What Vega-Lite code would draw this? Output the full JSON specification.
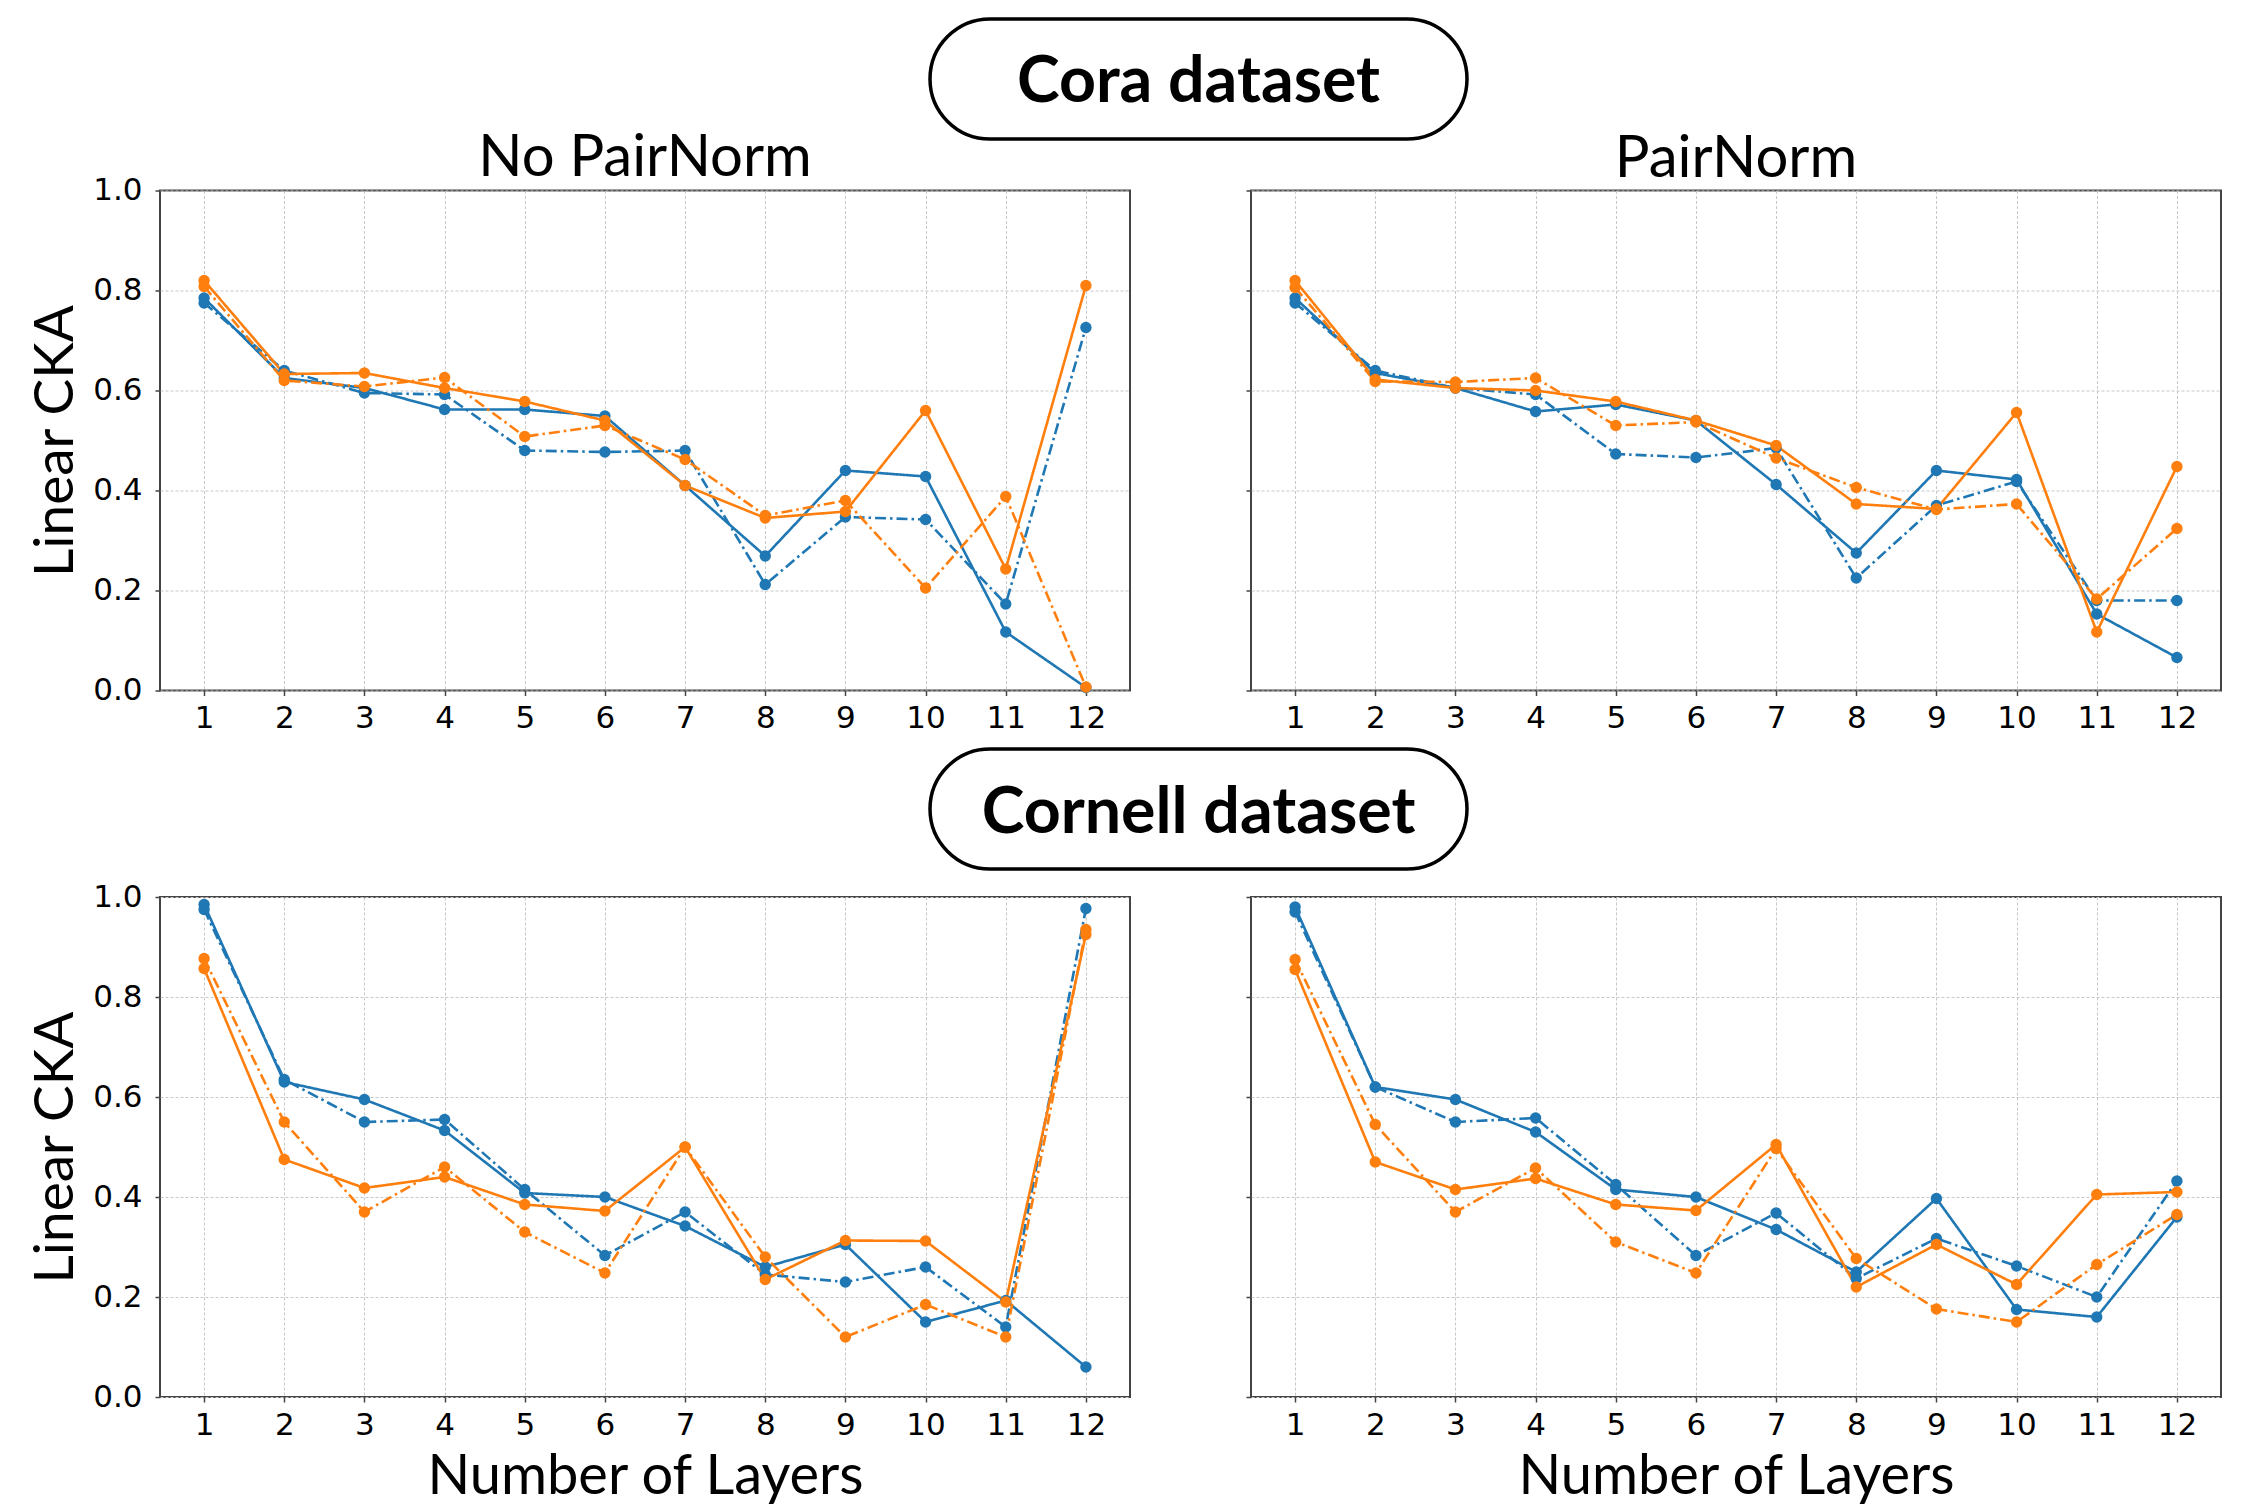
{
  "$schema": "https://vega.github.io/schema/vega-lite/v6.json",
  "background": "white",
  "padding": {"left": 27, "top": 17, "right": 5, "bottom": 0},
  "datasets": {
    "boxes": [{"label": "Cora dataset"}, {"label": "Cornell dataset"}],
    "cka": [
      {"panel":"cora_no","series":"A","variant":"v1","layer":1,"cka":0.785},
      {"panel":"cora_no","series":"A","variant":"v1","layer":2,"cka":0.625},
      {"panel":"cora_no","series":"A","variant":"v1","layer":3,"cka":0.605},
      {"panel":"cora_no","series":"A","variant":"v1","layer":4,"cka":0.562},
      {"panel":"cora_no","series":"A","variant":"v1","layer":5,"cka":0.562},
      {"panel":"cora_no","series":"A","variant":"v1","layer":6,"cka":0.549},
      {"panel":"cora_no","series":"A","variant":"v1","layer":7,"cka":0.41},
      {"panel":"cora_no","series":"A","variant":"v1","layer":8,"cka":0.269},
      {"panel":"cora_no","series":"A","variant":"v1","layer":9,"cka":0.44},
      {"panel":"cora_no","series":"A","variant":"v1","layer":10,"cka":0.428},
      {"panel":"cora_no","series":"A","variant":"v1","layer":11,"cka":0.117},
      {"panel":"cora_no","series":"A","variant":"v1","layer":12,"cka":0.006},
      {"panel":"cora_no","series":"A","variant":"v2","layer":1,"cka":0.775},
      {"panel":"cora_no","series":"A","variant":"v2","layer":2,"cka":0.64},
      {"panel":"cora_no","series":"A","variant":"v2","layer":3,"cka":0.595},
      {"panel":"cora_no","series":"A","variant":"v2","layer":4,"cka":0.592},
      {"panel":"cora_no","series":"A","variant":"v2","layer":5,"cka":0.48},
      {"panel":"cora_no","series":"A","variant":"v2","layer":6,"cka":0.477},
      {"panel":"cora_no","series":"A","variant":"v2","layer":7,"cka":0.48},
      {"panel":"cora_no","series":"A","variant":"v2","layer":8,"cka":0.212},
      {"panel":"cora_no","series":"A","variant":"v2","layer":9,"cka":0.347},
      {"panel":"cora_no","series":"A","variant":"v2","layer":10,"cka":0.342},
      {"panel":"cora_no","series":"A","variant":"v2","layer":11,"cka":0.173},
      {"panel":"cora_no","series":"A","variant":"v2","layer":12,"cka":0.726},
      {"panel":"cora_no","series":"B","variant":"v1","layer":1,"cka":0.82},
      {"panel":"cora_no","series":"B","variant":"v1","layer":2,"cka":0.633},
      {"panel":"cora_no","series":"B","variant":"v1","layer":3,"cka":0.635},
      {"panel":"cora_no","series":"B","variant":"v1","layer":4,"cka":0.605},
      {"panel":"cora_no","series":"B","variant":"v1","layer":5,"cka":0.578},
      {"panel":"cora_no","series":"B","variant":"v1","layer":6,"cka":0.54},
      {"panel":"cora_no","series":"B","variant":"v1","layer":7,"cka":0.41},
      {"panel":"cora_no","series":"B","variant":"v1","layer":8,"cka":0.345},
      {"panel":"cora_no","series":"B","variant":"v1","layer":9,"cka":0.358},
      {"panel":"cora_no","series":"B","variant":"v1","layer":10,"cka":0.56},
      {"panel":"cora_no","series":"B","variant":"v1","layer":11,"cka":0.243},
      {"panel":"cora_no","series":"B","variant":"v1","layer":12,"cka":0.81},
      {"panel":"cora_no","series":"B","variant":"v2","layer":1,"cka":0.808},
      {"panel":"cora_no","series":"B","variant":"v2","layer":2,"cka":0.62},
      {"panel":"cora_no","series":"B","variant":"v2","layer":3,"cka":0.608},
      {"panel":"cora_no","series":"B","variant":"v2","layer":4,"cka":0.626},
      {"panel":"cora_no","series":"B","variant":"v2","layer":5,"cka":0.508},
      {"panel":"cora_no","series":"B","variant":"v2","layer":6,"cka":0.53},
      {"panel":"cora_no","series":"B","variant":"v2","layer":7,"cka":0.462},
      {"panel":"cora_no","series":"B","variant":"v2","layer":8,"cka":0.35},
      {"panel":"cora_no","series":"B","variant":"v2","layer":9,"cka":0.38},
      {"panel":"cora_no","series":"B","variant":"v2","layer":10,"cka":0.205},
      {"panel":"cora_no","series":"B","variant":"v2","layer":11,"cka":0.388},
      {"panel":"cora_no","series":"B","variant":"v2","layer":12,"cka":0.007},

      {"panel":"cora_pn","series":"A","variant":"v1","layer":1,"cka":0.785},
      {"panel":"cora_pn","series":"A","variant":"v1","layer":2,"cka":0.635},
      {"panel":"cora_pn","series":"A","variant":"v1","layer":3,"cka":0.605},
      {"panel":"cora_pn","series":"A","variant":"v1","layer":4,"cka":0.558},
      {"panel":"cora_pn","series":"A","variant":"v1","layer":5,"cka":0.572},
      {"panel":"cora_pn","series":"A","variant":"v1","layer":6,"cka":0.54},
      {"panel":"cora_pn","series":"A","variant":"v1","layer":7,"cka":0.412},
      {"panel":"cora_pn","series":"A","variant":"v1","layer":8,"cka":0.275},
      {"panel":"cora_pn","series":"A","variant":"v1","layer":9,"cka":0.44},
      {"panel":"cora_pn","series":"A","variant":"v1","layer":10,"cka":0.422},
      {"panel":"cora_pn","series":"A","variant":"v1","layer":11,"cka":0.153},
      {"panel":"cora_pn","series":"A","variant":"v1","layer":12,"cka":0.066},
      {"panel":"cora_pn","series":"A","variant":"v2","layer":1,"cka":0.775},
      {"panel":"cora_pn","series":"A","variant":"v2","layer":2,"cka":0.64},
      {"panel":"cora_pn","series":"A","variant":"v2","layer":3,"cka":0.605},
      {"panel":"cora_pn","series":"A","variant":"v2","layer":4,"cka":0.592},
      {"panel":"cora_pn","series":"A","variant":"v2","layer":5,"cka":0.473},
      {"panel":"cora_pn","series":"A","variant":"v2","layer":6,"cka":0.466},
      {"panel":"cora_pn","series":"A","variant":"v2","layer":7,"cka":0.485},
      {"panel":"cora_pn","series":"A","variant":"v2","layer":8,"cka":0.225},
      {"panel":"cora_pn","series":"A","variant":"v2","layer":9,"cka":0.37},
      {"panel":"cora_pn","series":"A","variant":"v2","layer":10,"cka":0.418},
      {"panel":"cora_pn","series":"A","variant":"v2","layer":11,"cka":0.18},
      {"panel":"cora_pn","series":"A","variant":"v2","layer":12,"cka":0.18},
      {"panel":"cora_pn","series":"B","variant":"v1","layer":1,"cka":0.82},
      {"panel":"cora_pn","series":"B","variant":"v1","layer":2,"cka":0.622},
      {"panel":"cora_pn","series":"B","variant":"v1","layer":3,"cka":0.605},
      {"panel":"cora_pn","series":"B","variant":"v1","layer":4,"cka":0.6},
      {"panel":"cora_pn","series":"B","variant":"v1","layer":5,"cka":0.578},
      {"panel":"cora_pn","series":"B","variant":"v1","layer":6,"cka":0.54},
      {"panel":"cora_pn","series":"B","variant":"v1","layer":7,"cka":0.49},
      {"panel":"cora_pn","series":"B","variant":"v1","layer":8,"cka":0.373},
      {"panel":"cora_pn","series":"B","variant":"v1","layer":9,"cka":0.363},
      {"panel":"cora_pn","series":"B","variant":"v1","layer":10,"cka":0.556},
      {"panel":"cora_pn","series":"B","variant":"v1","layer":11,"cka":0.117},
      {"panel":"cora_pn","series":"B","variant":"v1","layer":12,"cka":0.448},
      {"panel":"cora_pn","series":"B","variant":"v2","layer":1,"cka":0.806},
      {"panel":"cora_pn","series":"B","variant":"v2","layer":2,"cka":0.618},
      {"panel":"cora_pn","series":"B","variant":"v2","layer":3,"cka":0.617},
      {"panel":"cora_pn","series":"B","variant":"v2","layer":4,"cka":0.625},
      {"panel":"cora_pn","series":"B","variant":"v2","layer":5,"cka":0.53},
      {"panel":"cora_pn","series":"B","variant":"v2","layer":6,"cka":0.537},
      {"panel":"cora_pn","series":"B","variant":"v2","layer":7,"cka":0.465},
      {"panel":"cora_pn","series":"B","variant":"v2","layer":8,"cka":0.406},
      {"panel":"cora_pn","series":"B","variant":"v2","layer":9,"cka":0.362},
      {"panel":"cora_pn","series":"B","variant":"v2","layer":10,"cka":0.373},
      {"panel":"cora_pn","series":"B","variant":"v2","layer":11,"cka":0.183},
      {"panel":"cora_pn","series":"B","variant":"v2","layer":12,"cka":0.324},

      {"panel":"cornell_no","series":"A","variant":"v1","layer":1,"cka":0.985},
      {"panel":"cornell_no","series":"A","variant":"v1","layer":2,"cka":0.63},
      {"panel":"cornell_no","series":"A","variant":"v1","layer":3,"cka":0.595},
      {"panel":"cornell_no","series":"A","variant":"v1","layer":4,"cka":0.533},
      {"panel":"cornell_no","series":"A","variant":"v1","layer":5,"cka":0.408},
      {"panel":"cornell_no","series":"A","variant":"v1","layer":6,"cka":0.4},
      {"panel":"cornell_no","series":"A","variant":"v1","layer":7,"cka":0.342},
      {"panel":"cornell_no","series":"A","variant":"v1","layer":8,"cka":0.26},
      {"panel":"cornell_no","series":"A","variant":"v1","layer":9,"cka":0.305},
      {"panel":"cornell_no","series":"A","variant":"v1","layer":10,"cka":0.15},
      {"panel":"cornell_no","series":"A","variant":"v1","layer":11,"cka":0.193},
      {"panel":"cornell_no","series":"A","variant":"v1","layer":12,"cka":0.06},
      {"panel":"cornell_no","series":"A","variant":"v2","layer":1,"cka":0.975},
      {"panel":"cornell_no","series":"A","variant":"v2","layer":2,"cka":0.635},
      {"panel":"cornell_no","series":"A","variant":"v2","layer":3,"cka":0.55},
      {"panel":"cornell_no","series":"A","variant":"v2","layer":4,"cka":0.555},
      {"panel":"cornell_no","series":"A","variant":"v2","layer":5,"cka":0.415},
      {"panel":"cornell_no","series":"A","variant":"v2","layer":6,"cka":0.283},
      {"panel":"cornell_no","series":"A","variant":"v2","layer":7,"cka":0.37},
      {"panel":"cornell_no","series":"A","variant":"v2","layer":8,"cka":0.245},
      {"panel":"cornell_no","series":"A","variant":"v2","layer":9,"cka":0.23},
      {"panel":"cornell_no","series":"A","variant":"v2","layer":10,"cka":0.26},
      {"panel":"cornell_no","series":"A","variant":"v2","layer":11,"cka":0.14},
      {"panel":"cornell_no","series":"A","variant":"v2","layer":12,"cka":0.977},
      {"panel":"cornell_no","series":"B","variant":"v1","layer":1,"cka":0.857},
      {"panel":"cornell_no","series":"B","variant":"v1","layer":2,"cka":0.475},
      {"panel":"cornell_no","series":"B","variant":"v1","layer":3,"cka":0.418},
      {"panel":"cornell_no","series":"B","variant":"v1","layer":4,"cka":0.44},
      {"panel":"cornell_no","series":"B","variant":"v1","layer":5,"cka":0.385},
      {"panel":"cornell_no","series":"B","variant":"v1","layer":6,"cka":0.372},
      {"panel":"cornell_no","series":"B","variant":"v1","layer":7,"cka":0.5},
      {"panel":"cornell_no","series":"B","variant":"v1","layer":8,"cka":0.235},
      {"panel":"cornell_no","series":"B","variant":"v1","layer":9,"cka":0.313},
      {"panel":"cornell_no","series":"B","variant":"v1","layer":10,"cka":0.312},
      {"panel":"cornell_no","series":"B","variant":"v1","layer":11,"cka":0.19},
      {"panel":"cornell_no","series":"B","variant":"v1","layer":12,"cka":0.925},
      {"panel":"cornell_no","series":"B","variant":"v2","layer":1,"cka":0.877},
      {"panel":"cornell_no","series":"B","variant":"v2","layer":2,"cka":0.55},
      {"panel":"cornell_no","series":"B","variant":"v2","layer":3,"cka":0.37},
      {"panel":"cornell_no","series":"B","variant":"v2","layer":4,"cka":0.46},
      {"panel":"cornell_no","series":"B","variant":"v2","layer":5,"cka":0.33},
      {"panel":"cornell_no","series":"B","variant":"v2","layer":6,"cka":0.248},
      {"panel":"cornell_no","series":"B","variant":"v2","layer":7,"cka":0.5},
      {"panel":"cornell_no","series":"B","variant":"v2","layer":8,"cka":0.28},
      {"panel":"cornell_no","series":"B","variant":"v2","layer":9,"cka":0.12},
      {"panel":"cornell_no","series":"B","variant":"v2","layer":10,"cka":0.185},
      {"panel":"cornell_no","series":"B","variant":"v2","layer":11,"cka":0.12},
      {"panel":"cornell_no","series":"B","variant":"v2","layer":12,"cka":0.935},

      {"panel":"cornell_pn","series":"A","variant":"v1","layer":1,"cka":0.98},
      {"panel":"cornell_pn","series":"A","variant":"v1","layer":2,"cka":0.62},
      {"panel":"cornell_pn","series":"A","variant":"v1","layer":3,"cka":0.595},
      {"panel":"cornell_pn","series":"A","variant":"v1","layer":4,"cka":0.53},
      {"panel":"cornell_pn","series":"A","variant":"v1","layer":5,"cka":0.415},
      {"panel":"cornell_pn","series":"A","variant":"v1","layer":6,"cka":0.4},
      {"panel":"cornell_pn","series":"A","variant":"v1","layer":7,"cka":0.335},
      {"panel":"cornell_pn","series":"A","variant":"v1","layer":8,"cka":0.25},
      {"panel":"cornell_pn","series":"A","variant":"v1","layer":9,"cka":0.397},
      {"panel":"cornell_pn","series":"A","variant":"v1","layer":10,"cka":0.175},
      {"panel":"cornell_pn","series":"A","variant":"v1","layer":11,"cka":0.16},
      {"panel":"cornell_pn","series":"A","variant":"v1","layer":12,"cka":0.36},
      {"panel":"cornell_pn","series":"A","variant":"v2","layer":1,"cka":0.97},
      {"panel":"cornell_pn","series":"A","variant":"v2","layer":2,"cka":0.62},
      {"panel":"cornell_pn","series":"A","variant":"v2","layer":3,"cka":0.55},
      {"panel":"cornell_pn","series":"A","variant":"v2","layer":4,"cka":0.558},
      {"panel":"cornell_pn","series":"A","variant":"v2","layer":5,"cka":0.425},
      {"panel":"cornell_pn","series":"A","variant":"v2","layer":6,"cka":0.283},
      {"panel":"cornell_pn","series":"A","variant":"v2","layer":7,"cka":0.368},
      {"panel":"cornell_pn","series":"A","variant":"v2","layer":8,"cka":0.237},
      {"panel":"cornell_pn","series":"A","variant":"v2","layer":9,"cka":0.317},
      {"panel":"cornell_pn","series":"A","variant":"v2","layer":10,"cka":0.262},
      {"panel":"cornell_pn","series":"A","variant":"v2","layer":11,"cka":0.2},
      {"panel":"cornell_pn","series":"A","variant":"v2","layer":12,"cka":0.432},
      {"panel":"cornell_pn","series":"B","variant":"v1","layer":1,"cka":0.855},
      {"panel":"cornell_pn","series":"B","variant":"v1","layer":2,"cka":0.47},
      {"panel":"cornell_pn","series":"B","variant":"v1","layer":3,"cka":0.415},
      {"panel":"cornell_pn","series":"B","variant":"v1","layer":4,"cka":0.437},
      {"panel":"cornell_pn","series":"B","variant":"v1","layer":5,"cka":0.385},
      {"panel":"cornell_pn","series":"B","variant":"v1","layer":6,"cka":0.373},
      {"panel":"cornell_pn","series":"B","variant":"v1","layer":7,"cka":0.505},
      {"panel":"cornell_pn","series":"B","variant":"v1","layer":8,"cka":0.22},
      {"panel":"cornell_pn","series":"B","variant":"v1","layer":9,"cka":0.305},
      {"panel":"cornell_pn","series":"B","variant":"v1","layer":10,"cka":0.225},
      {"panel":"cornell_pn","series":"B","variant":"v1","layer":11,"cka":0.405},
      {"panel":"cornell_pn","series":"B","variant":"v1","layer":12,"cka":0.41},
      {"panel":"cornell_pn","series":"B","variant":"v2","layer":1,"cka":0.875},
      {"panel":"cornell_pn","series":"B","variant":"v2","layer":2,"cka":0.545},
      {"panel":"cornell_pn","series":"B","variant":"v2","layer":3,"cka":0.37},
      {"panel":"cornell_pn","series":"B","variant":"v2","layer":4,"cka":0.458},
      {"panel":"cornell_pn","series":"B","variant":"v2","layer":5,"cka":0.31},
      {"panel":"cornell_pn","series":"B","variant":"v2","layer":6,"cka":0.248},
      {"panel":"cornell_pn","series":"B","variant":"v2","layer":7,"cka":0.497},
      {"panel":"cornell_pn","series":"B","variant":"v2","layer":8,"cka":0.277},
      {"panel":"cornell_pn","series":"B","variant":"v2","layer":9,"cka":0.176},
      {"panel":"cornell_pn","series":"B","variant":"v2","layer":10,"cka":0.15},
      {"panel":"cornell_pn","series":"B","variant":"v2","layer":11,"cka":0.265},
      {"panel":"cornell_pn","series":"B","variant":"v2","layer":12,"cka":0.365}
    ]
  },
  "config": {
    "view": {"stroke": "#444444", "strokeWidth": 2},
    "axis": {
      "domain": false, "grid": true, "gridColor": "#c8c8c8", "gridDash": [3, 2], "gridWidth": 1,
      "tickColor": "#444444", "tickSize": 5, "tickWidth": 1.5,
      "labelFont": "DejaVu Sans", "labelFontSize": 31, "labelColor": "black",
      "titleFont": "Lato", "titleFontWeight": "normal", "titleColor": "black"
    },
    "axisX": {"labelPadding": 8, "titlePadding": 9, "titleFontSize": 56},
    "axisY": {"labelPadding": 13, "titlePadding": 8, "titleFontSize": 55},
    "title": {"font": "Lato", "fontSize": 58, "fontWeight": "normal", "color": "black", "anchor": "middle", "frame": "group"},
    "legend": {"disable": true}
  },
  "spacing": 12,
  "bounds": "full",
  "vconcat": [
    {
      "spacing": -12.5,
      "bounds": "full",
      "vconcat": [
        {
          "spacing": 0,
          "hconcat": [
            {"width": 768, "height": 10, "data": {"values": []}, "mark": {"type": "text"}, "encoding": {}, "view": {"stroke": null}},
            {
              "width": 537, "height": 120,
              "data": {"name": "boxes"},
              "transform": [{"filter": "datum.label === 'Cora dataset'"}],
              "mark": {"type": "text", "font": "Lato", "fontWeight": "bold", "fontSize": 64.5, "color": "black", "baseline": "middle", "align": "center", "dy": 4},
              "encoding": {"text": {"field": "label", "type": "nominal"}},
              "view": {"stroke": "black", "strokeWidth": 3.5, "cornerRadius": 60, "fill": null}
            }
          ]
        },
        {
          "spacing": 121,
          "bounds": "flush",
          "hconcat": [
            {
              "width": 970, "height": 500,
              "title": {"text": "No PairNorm", "offset": -13, "anchor": "middle", "frame": "group"},
              "data": {"name": "cka"},
              "transform": [{"filter": "datum.panel === 'cora_no'"}],
              "encoding": {
                "x": {"field": "layer", "type": "quantitative", "scale": {"domain": [0.45, 12.55], "nice": false, "zero": false}, "axis": {"values": [1,2,3,4,5,6,7,8,9,10,11,12], "format": "d", "title": null}},
                "y": {"field": "cka", "type": "quantitative", "scale": {"domain": [0, 1], "nice": false}, "axis": {"values": [0, 0.2, 0.4, 0.6, 0.8, 1], "format": ".1f", "title": "Linear CKA"}},
                "color": {"field": "series", "type": "nominal", "scale": {"domain": ["A", "B"], "range": ["#1f77b4", "#ff7f0e"]}, "legend": null}
              },
              "layer": [
                {"mark": {"type": "line", "strokeWidth": 2.6}, "encoding": {"strokeDash": {"field": "variant", "type": "nominal", "scale": {"domain": ["v1", "v2"], "range": [[1, 0], [11, 4, 2.5, 4]]}, "legend": null}}},
                {"mark": {"type": "point", "filled": true, "size": 130, "opacity": 1}}
              ]
            },
            {
              "width": 970, "height": 500,
              "title": {"text": "PairNorm", "offset": 1, "anchor": "middle", "frame": "group"},
              "data": {"name": "cka"},
              "transform": [{"filter": "datum.panel === 'cora_pn'"}],
              "encoding": {
                "x": {"field": "layer", "type": "quantitative", "scale": {"domain": [0.45, 12.55], "nice": false, "zero": false}, "axis": {"values": [1,2,3,4,5,6,7,8,9,10,11,12], "format": "d", "title": null}},
                "y": {"field": "cka", "type": "quantitative", "scale": {"domain": [0, 1], "nice": false}, "axis": {"values": [0, 0.2, 0.4, 0.6, 0.8, 1], "labels": false, "title": null}},
                "color": {"field": "series", "type": "nominal", "scale": {"domain": ["A", "B"], "range": ["#1f77b4", "#ff7f0e"]}, "legend": null}
              },
              "layer": [
                {"mark": {"type": "line", "strokeWidth": 2.6}, "encoding": {"strokeDash": {"field": "variant", "type": "nominal", "scale": {"domain": ["v1", "v2"], "range": [[1, 0], [11, 4, 2.5, 4]]}, "legend": null}}},
                {"mark": {"type": "point", "filled": true, "size": 130, "opacity": 1}}
              ]
            }
          ]
        }
      ]
    },
    {
      "spacing": 9,
      "bounds": "full",
      "vconcat": [
        {
          "spacing": 0,
          "hconcat": [
            {"width": 768, "height": 10, "data": {"values": []}, "mark": {"type": "text"}, "encoding": {}, "view": {"stroke": null}},
            {
              "width": 537, "height": 120,
              "data": {"name": "boxes"},
              "transform": [{"filter": "datum.label === 'Cornell dataset'"}],
              "mark": {"type": "text", "font": "Lato", "fontWeight": "bold", "fontSize": 64.5, "color": "black", "baseline": "middle", "align": "center", "dy": 5},
              "encoding": {"text": {"field": "label", "type": "nominal"}},
              "view": {"stroke": "black", "strokeWidth": 3.5, "cornerRadius": 60, "fill": null}
            }
          ]
        },
        {
          "spacing": 121,
          "bounds": "flush",
          "hconcat": [
            {
              "width": 970, "height": 500,
              "data": {"name": "cka"},
              "transform": [{"filter": "datum.panel === 'cornell_no'"}],
              "encoding": {
                "x": {"field": "layer", "type": "quantitative", "scale": {"domain": [0.45, 12.55], "nice": false, "zero": false}, "axis": {"values": [1,2,3,4,5,6,7,8,9,10,11,12], "format": "d", "title": "Number of Layers"}},
                "y": {"field": "cka", "type": "quantitative", "scale": {"domain": [0, 1], "nice": false}, "axis": {"values": [0, 0.2, 0.4, 0.6, 0.8, 1], "format": ".1f", "title": "Linear CKA"}},
                "color": {"field": "series", "type": "nominal", "scale": {"domain": ["A", "B"], "range": ["#1f77b4", "#ff7f0e"]}, "legend": null}
              },
              "layer": [
                {"mark": {"type": "line", "strokeWidth": 2.6}, "encoding": {"strokeDash": {"field": "variant", "type": "nominal", "scale": {"domain": ["v1", "v2"], "range": [[1, 0], [11, 4, 2.5, 4]]}, "legend": null}}},
                {"mark": {"type": "point", "filled": true, "size": 130, "opacity": 1}}
              ]
            },
            {
              "width": 970, "height": 500,
              "data": {"name": "cka"},
              "transform": [{"filter": "datum.panel === 'cornell_pn'"}],
              "encoding": {
                "x": {"field": "layer", "type": "quantitative", "scale": {"domain": [0.45, 12.55], "nice": false, "zero": false}, "axis": {"values": [1,2,3,4,5,6,7,8,9,10,11,12], "format": "d", "title": "Number of Layers"}},
                "y": {"field": "cka", "type": "quantitative", "scale": {"domain": [0, 1], "nice": false}, "axis": {"values": [0, 0.2, 0.4, 0.6, 0.8, 1], "labels": false, "title": null}},
                "color": {"field": "series", "type": "nominal", "scale": {"domain": ["A", "B"], "range": ["#1f77b4", "#ff7f0e"]}, "legend": null}
              },
              "layer": [
                {"mark": {"type": "line", "strokeWidth": 2.6}, "encoding": {"strokeDash": {"field": "variant", "type": "nominal", "scale": {"domain": ["v1", "v2"], "range": [[1, 0], [11, 4, 2.5, 4]]}, "legend": null}}},
                {"mark": {"type": "point", "filled": true, "size": 130, "opacity": 1}}
              ]
            }
          ]
        }
      ]
    }
  ]
}
